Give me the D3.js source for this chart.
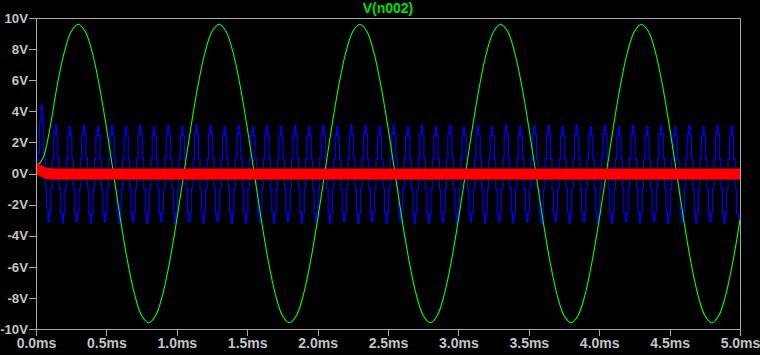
<!DOCTYPE html>
<html>
<head>
<meta charset="utf-8">
<script src="https://cdn.jsdelivr.net/npm/d3@7"></script>
<style>
  html, body { margin: 0; padding: 0; background: #000; }
  svg { display: block; }
  text { font-family: "Liberation Sans", Arial, sans-serif; font-weight: bold; font-size: 14px; }
</style>
</head>
<body>
<div id="chart"></div>
<script>
// y axis ticks (volts) and x axis ticks (ms)
const yTicks = [-10, -8, -6, -4, -2, 0, 2, 4, 6, 8, 10];
const xTicks = [0, 0.5, 1.0, 1.5, 2.0, 2.5, 3.0, 3.5, 4.0, 4.5, 5.0];
const title = "V(n002)";

// green trace V(n002), one value every 0.05ms from 0 to 5ms
const greenStep = 0.05;
const greenValues = [
  0.4, 1.0, 2.97, 5.64, 7.77, 9.13, 9.6, 9.13, 7.77, 5.64, 2.97, 0, -2.97, -5.64, -7.77, -9.13, -9.6, -9.13, -7.77, -5.64, -2.97,
  0, 2.97, 5.64, 7.77, 9.13, 9.6, 9.13, 7.77, 5.64, 2.97, 0, -2.97, -5.64, -7.77, -9.13, -9.6, -9.13, -7.77, -5.64, -2.97,
  0, 2.97, 5.64, 7.77, 9.13, 9.6, 9.13, 7.77, 5.64, 2.97, 0, -2.97, -5.64, -7.77, -9.13, -9.6, -9.13, -7.77, -5.64, -2.97,
  0, 2.97, 5.64, 7.77, 9.13, 9.6, 9.13, 7.77, 5.64, 2.97, 0, -2.97, -5.64, -7.77, -9.13, -9.6, -9.13, -7.77, -5.64, -2.97,
  0, 2.97, 5.64, 7.77, 9.13, 9.6, 9.13, 7.77, 5.64, 2.97, 0, -2.97, -5.64, -7.77, -9.13, -9.6, -9.13, -7.77, -5.64, -2.97
];

// blue trace: 50 cycles of 0.1ms, sampled shape per cycle + peak / trough of each cycle
const bluePeriod = 0.1;
const blueOffset = -0.01;
const blueShape = [-1, -0.81, -0.31, 0.31, 0.81, 1, 0.81, 0.31, -0.31, -0.81];
const blueFirstShape = [0, 0, 0.05, 0.3, 0.75, 1, 0.81, 0.31, -0.31, -0.81];
const bluePeaks = [
  4.4, 3.1, 3.0, 3.1, 3.0, 3.1, 3.0, 3.1, 3.0, 3.1,
  3.0, 3.1, 3.1, 3.0, 3.1, 3.0, 3.1, 3.0, 3.1, 3.0,
  3.1, 3.0, 3.1, 3.1, 3.0, 3.1, 3.0, 3.1, 3.0, 3.1,
  3.0, 3.1, 3.0, 3.1, 3.0, 3.1, 3.1, 3.0, 3.1, 3.0,
  3.1, 3.0, 3.1, 3.0, 3.1, 3.0, 3.1, 3.0, 3.1, 3.0
];
const blueTroughs = [
  -2.7, -3.1, -3.2, -3.1, -3.2, -3.1, -3.2, -3.1, -3.2, -3.1,
  -3.2, -3.1, -3.2, -3.1, -3.2, -3.2, -3.1, -3.2, -3.1, -3.2,
  -3.1, -3.2, -3.1, -3.2, -3.1, -3.2, -3.1, -3.2, -3.2, -3.1,
  -3.2, -3.1, -3.2, -3.1, -3.2, -3.1, -3.2, -3.1, -3.2, -3.1,
  -3.2, -3.2, -3.1, -3.2, -3.1, -3.2, -3.1, -3.2, -3.1, -3.2
];

// red trace: fast ripple drawn as its envelope
const redTimes = [0, 0.02, 0.04, 0.06, 0.08, 0.1, 0.15, 5.0];
const redHigh = [0.65, 0.6, 0.5, 0.4, 0.33, 0.3, 0.29, 0.29];
const redLow = [-0.05, -0.1, -0.2, -0.28, -0.33, -0.35, -0.36, -0.36];

const width = 760;
const height = 355;
const margin = { top: 18, right: 20, bottom: 26, left: 36 };

const svg = d3.select("#chart").append("svg")
  .attr("width", width)
  .attr("height", height)
  .style("background", "#000");

const x = d3.scaleLinear().domain([0, 5]).range([margin.left, width - margin.right]);
const y = d3.scaleLinear().domain([-10, 10]).range([height - margin.bottom, margin.top]);

const axisColor = "#a8a8a8";
const textColor = "#c4c4c4";

svg.append("clipPath").attr("id", "plot")
  .append("rect")
  .attr("x", x(0)).attr("y", y(10))
  .attr("width", x(5) - x(0)).attr("height", y(-10) - y(10));

// build blue points
const bluePts = [];
bluePeaks.forEach(function (pk, k) {
  const shape = k === 0 ? blueFirstShape : blueShape;
  shape.forEach(function (s, j) {
    const v = s >= 0 ? s * pk : -s * blueTroughs[k];
    const t = k * bluePeriod + j * bluePeriod / shape.length + (k === 0 && j === 0 ? 0 : blueOffset);
    bluePts.push([t, v]);
  });
});
bluePts.push([5.0, blueTroughs[49] * 0.9]);

const plot = svg.append("g").attr("clip-path", "url(#plot)");

plot.append("path")
  .datum(bluePts)
  .attr("fill", "none")
  .attr("stroke", "#0000ff")
  .attr("stroke-width", 1.2)
  .attr("d", d3.line().x(d => x(d[0])).y(d => y(d[1])).curve(d3.curveStep));

plot.append("path")
  .datum(greenValues)
  .attr("fill", "none")
  .attr("stroke", "#00ff00")
  .attr("stroke-width", 1.1)
  .attr("d", d3.line().x((d, i) => x(i * greenStep)).y(d => y(d)).curve(d3.curveCatmullRom));

plot.append("path")
  .datum(redTimes)
  .attr("fill", "#ff0000")
  .attr("stroke", "#ff0000")
  .attr("stroke-width", 1)
  .attr("d", d3.area().x(d => x(d)).y0((d, i) => y(redLow[i])).y1((d, i) => y(redHigh[i])));

// frame
const frame = svg.append("g").attr("shape-rendering", "crispEdges");
frame.append("rect")
  .attr("x", x(0)).attr("y", y(10))
  .attr("width", x(5) - x(0)).attr("height", y(-10) - y(10))
  .attr("fill", "none").attr("stroke", axisColor);

// y axis
const yAxis = svg.append("g")
  .attr("transform", "translate(" + x(0) + ",0)")
  .call(d3.axisLeft(y).tickValues(yTicks).tickSize(7).tickPadding(1).tickFormat(d => d + "V"));
yAxis.select(".domain").remove();
yAxis.selectAll("line").attr("stroke", axisColor).attr("shape-rendering", "crispEdges");
yAxis.selectAll("text").attr("fill", textColor).style("font-size", "13.2px").attr("font-family", null);

// x axis
const xAxis = svg.append("g")
  .attr("transform", "translate(0," + y(-10) + ")")
  .call(d3.axisBottom(x).tickValues(xTicks).tickSize(7).tickPadding(2).tickFormat(d => d.toFixed(1) + "ms"));
xAxis.select(".domain").remove();
xAxis.selectAll("line").attr("stroke", axisColor).attr("shape-rendering", "crispEdges");
xAxis.selectAll("text").attr("fill", textColor).style("font-size", "14px").attr("font-family", null);

// title
svg.append("text")
  .attr("x", (x(0) + x(5)) / 2)
  .attr("y", 13)
  .attr("text-anchor", "middle")
  .attr("fill", "#00e000")
  .text(title);
</script>
</body>
</html>
